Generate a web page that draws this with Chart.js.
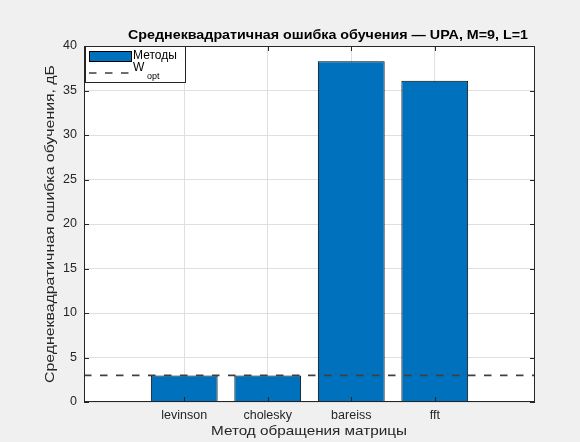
<!DOCTYPE html>
<html>
<head>
<meta charset="utf-8">
<script src="https://cdn.jsdelivr.net/npm/chart.js@4/dist/chart.umd.min.js"></script>
<style>
  html, body { margin: 0; padding: 0; background: #f0f0f0; }
  #wrap { width: 580px; height: 442px; position: relative; }
</style>
</head>
<body>
<div id="wrap"><canvas id="c" width="580" height="442"></canvas></div>
<script>
// Inversion methods and their training MSE (dB)
const methods = ['levinson', 'cholesky', 'bareiss', 'fft'];
const mseDb = [2.97, 2.97, 38.3, 36.1];
// Optimal-filter reference level (dB)
const woptDb = 3.0;
// Axis settings
const xLimits = [-0.2, 5.2];
const yTicks = [0, 5, 10, 15, 20, 25, 30, 35, 40];

const titleText = 'Среднеквадратичная ошибка обучения — UPA, M=9, L=1';
const yLabelText = 'Среднеквадратичная ошибка обучения, дБ';
const xLabelText = 'Метод обращения матрицы';
const legendBars = 'Методы';

const AX = '#262626';
const FONT = '"Liberation Sans", Arial, Helvetica, sans-serif';

function fitText(ctx, text, x, y, width) {
  const w = ctx.measureText(text).width;
  ctx.save();
  ctx.translate(x, y);
  ctx.scale(width / w, 1);
  ctx.fillText(text, 0, 0);
  ctx.restore();
}

const decor = {
  id: 'decor',
  beforeDraw(chart) {
    const { ctx, chartArea: a } = chart;
    ctx.save();
    ctx.fillStyle = '#f0f0f0';
    ctx.fillRect(0, 0, chart.width, chart.height);
    ctx.fillStyle = '#ffffff';
    ctx.fillRect(a.left, a.top, a.right - a.left, a.bottom - a.top);
    ctx.restore();
  },
  afterDraw(chart) {
    const { ctx, chartArea: a, scales } = chart;
    ctx.save();
    // axes box
    ctx.strokeStyle = AX;
    ctx.lineWidth = 1;
    ctx.strokeRect(Math.round(a.left) + 0.5, Math.round(a.top) + 0.5,
      Math.round(a.right - a.left) - 1, Math.round(a.bottom - a.top) - 1);
    // inward ticks, mirrored on all sides
    const L = 5;
    ctx.beginPath();
    scales.y.ticks.forEach(t => {
      const py = Math.round(scales.y.getPixelForValue(t.value)) + 0.5;
      ctx.moveTo(a.left, py); ctx.lineTo(a.left + L, py);
      ctx.moveTo(a.right, py); ctx.lineTo(a.right - L, py);
    });
    scales.x.ticks.forEach(t => {
      const px = Math.round(scales.x.getPixelForValue(t.value)) + 0.5;
      ctx.moveTo(px, a.bottom); ctx.lineTo(px, a.bottom - L);
      ctx.moveTo(px, a.top); ctx.lineTo(px, a.top + L);
    });
    ctx.stroke();

    // title
    ctx.fillStyle = '#000';
    ctx.font = 'bold 13.5px ' + FONT;
    ctx.textAlign = 'left';
    ctx.textBaseline = 'alphabetic';
    fitText(ctx, titleText, 128, 38.5, 400);

    // axis labels
    ctx.fillStyle = AX;
    ctx.font = '13px ' + FONT;
    ctx.textBaseline = 'middle';
    fitText(ctx, xLabelText, 211, 431, 196);
    ctx.save();
    ctx.translate(50, 383);
    ctx.rotate(-Math.PI / 2);
    fitText(ctx, yLabelText, 0, 0, 318);
    ctx.restore();

    // legend
    const lx = 85.5, ly = 46.5, lw = 100, lh = 36;
    ctx.fillStyle = '#fff';
    ctx.fillRect(lx, ly, lw, lh);
    ctx.strokeStyle = AX;
    ctx.strokeRect(lx, ly, lw, lh);
    ctx.fillStyle = '#0072BD';
    ctx.fillRect(89.5, 51.5, 42, 10);
    ctx.strokeStyle = '#000';
    ctx.strokeRect(89.5, 51.5, 42, 10);
    ctx.strokeStyle = '#404040';
    ctx.lineWidth = 1.7;
    ctx.setLineDash([7.5, 8.5]);
    ctx.beginPath();
    ctx.moveTo(89, 73); ctx.lineTo(132, 73);
    ctx.stroke();
    ctx.setLineDash([]);
    ctx.fillStyle = '#000';
    ctx.font = '12px ' + FONT;
    ctx.textAlign = 'left';
    ctx.textBaseline = 'middle';
    ctx.fillText(legendBars, 133, 56);
    ctx.fillText('W', 133, 68);
    ctx.font = '9px ' + FONT;
    ctx.fillText('opt', 147, 76.5);
    ctx.restore();
  }
};

new Chart(document.getElementById('c'), {
  type: 'bar',
  data: {
    datasets: [
      {
        type: 'line',
        label: 'Wopt',
        data: [{ x: xLimits[0], y: woptDb }, { x: xLimits[1], y: woptDb }],
        borderColor: '#404040',
        borderWidth: 1.7,
        borderDash: [7.5, 8.5],
        pointRadius: 0,
        fill: false,
        order: 0
      },
      {
        label: legendBars,
        data: methods.map((m, i) => ({ x: i + 1, y: mseDb[i] })),
        backgroundColor: '#0072BD',
        borderColor: '#000000',
        borderWidth: 1,
        barPercentage: 0.8,
        categoryPercentage: 1.0,
        order: 1
      }
    ]
  },
  options: {
    responsive: false,
    animation: false,
    devicePixelRatio: 1,
    layout: { padding: { left: 0, top: 46, right: 45, bottom: 0 } },
    plugins: { legend: { display: false }, title: { display: false }, tooltip: { enabled: false } },
    scales: {
      x: {
        type: 'linear',
        min: xLimits[0],
        max: xLimits[1],
        offset: false,
        bounds: 'ticks',
        afterBuildTicks(scale) { scale.ticks = methods.map((m, i) => ({ value: i + 1 })); },
        afterFit(scale) { scale.height = 40; },
        ticks: {
          callback: v => methods[Math.round(v) - 1] || '',
          color: AX,
          font: { family: FONT, size: 12.5 },
          padding: 6,
          maxRotation: 0,
          autoSkip: false
        },
        grid: { color: '#dfdfdf', drawTicks: false, offset: false },
        border: { display: false }
      },
      y: {
        min: 0,
        max: 40,
        afterBuildTicks(scale) { scale.ticks = yTicks.map(v => ({ value: v })); },
        afterFit(scale) { scale.width = 84; },
        ticks: {
          color: AX,
          font: { family: FONT, size: 12.5 },
          padding: 7
        },
        grid: { color: '#dfdfdf', drawTicks: false },
        border: { display: false }
      }
    }
  },
  plugins: [decor]
});
</script>
</body>
</html>
